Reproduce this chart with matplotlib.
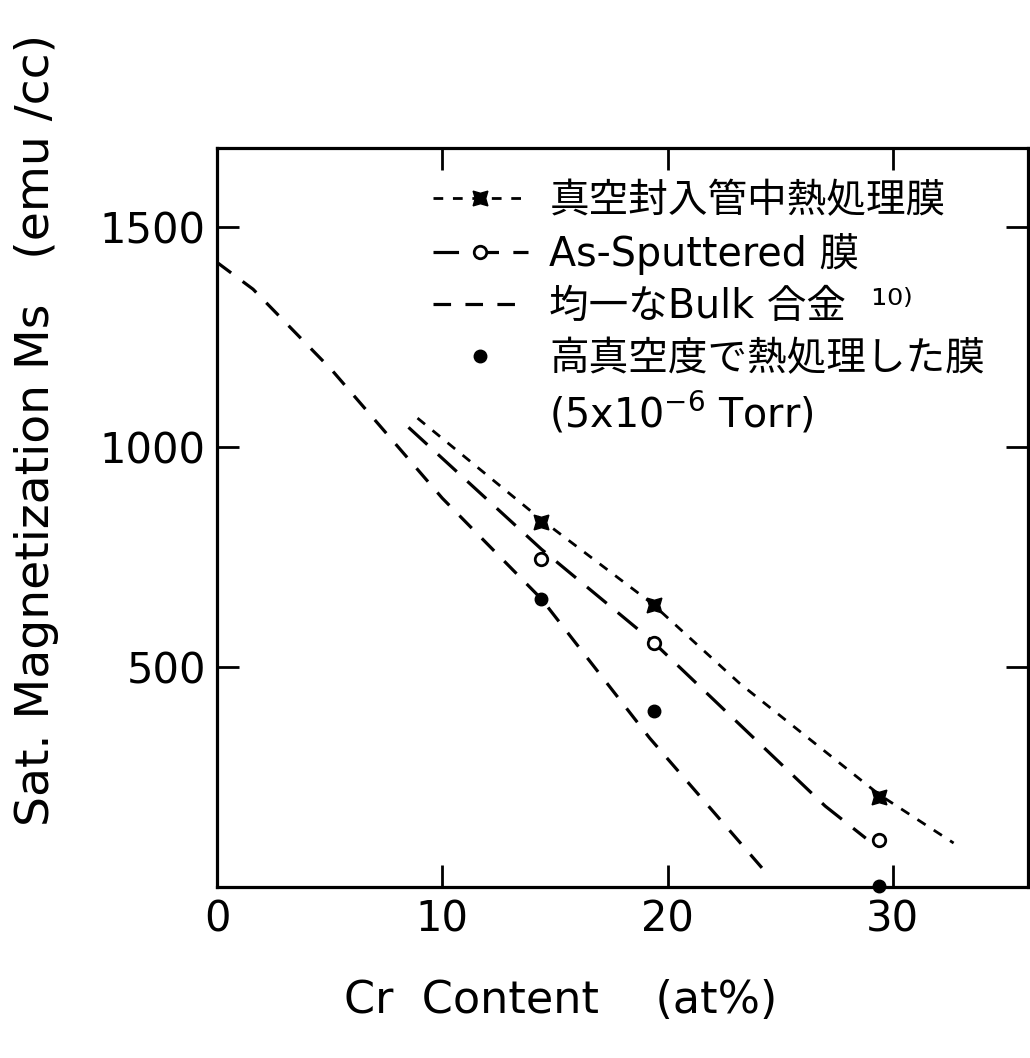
import numpy as np
import matplotlib
matplotlib.use("Agg")
import matplotlib.pyplot as plt
from matplotlib.lines import Line2D
from matplotlib.legend_handler import HandlerLine2D

plt.rcParams['font.family'] = ['DejaVu Sans', 'Noto Sans CJK JP']
plt.rcParams['mathtext.fontset'] = 'dejavusans'

# ---- data ----
cr_points = [14.4, 19.4, 29.4]
ms_vacuum_sealed = [830, 641, 205]      # 真空封入管中熱処理膜 (markers)
ms_as_sputtered = [745, 555, 107]       # As-Sputtered 膜 (markers)
ms_high_vacuum = [655, 400, 3]          # 高真空度で熱処理した膜 (markers)

vac_curve_x = [8.9, 14.4, 19.3, 23.2, 29.4, 32.7]
vac_curve_y = [1066, 835, 645, 463, 210, 100]

asp_curve_x = [8.5, 14.4, 19.3, 27.0, 28.8]
asp_curve_y = [1045, 768, 560, 184, 111]

bulk_curve_x = [0.0, 1.6, 5.1, 10.0, 14.4, 19.2, 24.2]
bulk_curve_y = [1420, 1359, 1175, 884, 655, 339, 43]

x_ticks = [0, 10, 20, 30]
y_ticks = [500, 1000, 1500]

labels = ['真空封入管中熱処理膜', 'As-Sputtered 膜', '均一なBulk 合金  ¹⁰⁾',
          '高真空度で熱処理した膜', '(5x10$^{-6}$ Torr)']

# ---- figure ----
fig = plt.figure(figsize=(10.3, 10.58), dpi=100)
ax = fig.add_axes([0.2107, 0.1616, 0.7873, 0.6985])

vac_ls = (0, (3.5, 3.5))
asp_ls = (0, (8, 4.5))
bulk_ls = (0, (5.5, 4.5))

ax.plot(vac_curve_x, vac_curve_y, color='k', lw=2.0, ls=vac_ls)
ax.plot(asp_curve_x, asp_curve_y, color='k', lw=2.3, ls=asp_ls)
ax.plot(bulk_curve_x, bulk_curve_y, color='k', lw=2.3, ls=bulk_ls)

ax.plot(cr_points, ms_vacuum_sealed, ls='none', marker=(4, 1, 45), ms=15,
        color='k')
ax.plot(cr_points, ms_as_sputtered, ls='none', marker='o', ms=9,
        mfc='white', mec='k', mew=2)
ax.plot(cr_points, ms_high_vacuum, ls='none', marker='o', ms=9,
        color='k', clip_on=False)

ax.set_xlim(0, 36)
ax.set_ylim(0, 1680)
ax.set_xticks(x_ticks)
ax.set_xticklabels([str(v) for v in x_ticks])
ax.set_yticks(y_ticks)
ax.set_yticklabels([str(v) for v in y_ticks])

ax.tick_params(direction='in', length=16, width=2, top=True, right=True,
               labelsize=30, pad=8)
for sp in ax.spines.values():
    sp.set_linewidth(2.3)

ax.set_xlabel('Cr  Content    (at%)', fontsize=32)
ax.xaxis.set_label_coords(0.424, -0.125)
ax.set_ylabel('Sat. Magnetization Ms   (emu /cc)', fontsize=34)
ax.yaxis.set_label_coords(-0.195, 0.618)


class LeftMarkerHandler(HandlerLine2D):
    def get_xdata(self, legend, xdescent, ydescent, width, height, fontsize):
        xdata = np.linspace(-xdescent, width, 2)
        xdata_marker = [-xdescent + 0.23 * width]
        return xdata, xdata_marker


handles = [
    Line2D([], [], color='k', lw=2.0, ls=vac_ls, marker=(4, 1, 45), ms=15),
    Line2D([], [], color='k', lw=2.3, ls=asp_ls, marker='o', ms=9,
           mfc='white', mec='k', mew=2),
    Line2D([], [], color='k', lw=2.3, ls=bulk_ls),
    Line2D([], [], color='k', ls='none', marker='o', ms=9),
    Line2D([], [], color='none', ls='none'),
]
leg = ax.legend(handles, labels, loc='upper left',
                bbox_to_anchor=(0.266, 0.955), frameon=False, fontsize=28.5,
                handlelength=2.4, handletextpad=0.55, labelspacing=0.3,
                borderpad=0, borderaxespad=0,
                handler_map={Line2D: LeftMarkerHandler(numpoints=1)})

fig.savefig('out.png', dpi=100)
